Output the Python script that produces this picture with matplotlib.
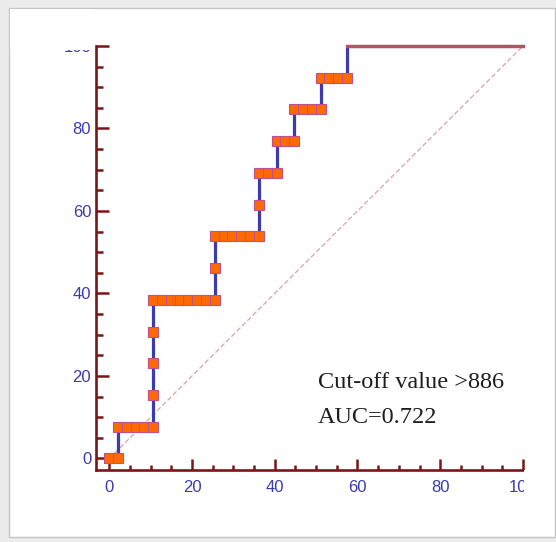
import numpy as np
import matplotlib
matplotlib.use('Agg')
import matplotlib.pyplot as plt
from matplotlib.patches import Rectangle
from matplotlib.ticker import MultipleLocator

# ROC points (1 - specificity %, sensitivity %), one marker per threshold
fpr = [0, 2.13, 2.13, 4.26, 6.38, 8.51, 10.64, 10.64, 10.64, 10.64,
       10.64, 12.77, 14.89, 17.02, 19.15, 21.28, 23.40, 25.53, 25.53, 25.53,
       27.66, 29.79, 31.91, 34.04, 36.17, 36.17, 36.17, 38.30, 40.43, 40.43,
       42.55, 44.68, 44.68, 46.81, 48.94, 51.06, 51.06, 53.19, 55.32, 57.45]
sens = [0, 0, 7.69, 7.69, 7.69, 7.69, 7.69, 15.38, 23.08, 30.77,
        38.46, 38.46, 38.46, 38.46, 38.46, 38.46, 38.46, 38.46, 46.15, 53.85,
        53.85, 53.85, 53.85, 53.85, 53.85, 61.54, 69.23, 69.23, 69.23, 76.92,
        76.92, 76.92, 84.62, 84.62, 84.62, 84.62, 92.31, 92.31, 92.31, 92.31]
# curve end after last threshold
end_fpr = [57.45, 100]
end_sens = [100, 100]

ticks = [0, 20, 40, 60, 80, 100]
label_lines = ['Cut-off value >886', 'AUC=0.722']

axis_color = '#7b1616'
label_color = '#3b3bb0'
line_color = '#3c3cac'
marker_face = '#ff6a00'
marker_edge = '#c0508a'

W, H = 556, 542
fig = plt.figure(figsize=(W / 100, H / 100), dpi=100, facecolor='#ececec')

# white panel with soft grey frame
fig.add_artist(Rectangle((9 / W, 1 - 537 / H), 546 / W, 529 / H, transform=fig.transFigure,
                         facecolor='white', edgecolor='#c4c4c4', linewidth=1.0, zorder=-5))

ax = fig.add_axes([96 / W, 1 - 470 / H, 427 / W, 424 / H])
ax.set_facecolor('none')
ax.set_xlim(-3.2, 100)
ax.set_ylim(-2.8, 100)

# reference diagonal
ax.plot([0, 100], [0, 100], color='#e2a2a2', linewidth=0.9, linestyle=(0, (4, 2)), zorder=1)

# ROC staircase
ax.plot(fpr + end_fpr, sens + end_sens, color=line_color, linewidth=2.3,
        solid_joinstyle='miter', clip_on=False, zorder=2)
ax.plot(end_fpr, end_sens, color='#e55a4a', linewidth=2.4, alpha=0.75, clip_on=False, zorder=3)
ax.plot(fpr, sens, linestyle='none', marker='s', markersize=6.8,
        markerfacecolor=marker_face, markeredgecolor=marker_edge, markeredgewidth=0.8,
        clip_on=False, zorder=4)

for s in ['top', 'right']:
    ax.spines[s].set_visible(False)
for s in ['left', 'bottom']:
    ax.spines[s].set_color(axis_color)
    ax.spines[s].set_linewidth(1.9)

ax.set_xticks(ticks)
ax.set_yticks(ticks)
ax.xaxis.set_minor_locator(MultipleLocator(5))
ax.yaxis.set_minor_locator(MultipleLocator(5))
ax.tick_params(axis='both', which='both', direction='in', color=axis_color,
               width=1.8, labelcolor=label_color)
ax.tick_params(axis='x', which='major', length=8, pad=7, labelsize=12)
ax.tick_params(axis='x', which='minor', length=3.8)
ax.tick_params(axis='y', which='major', length=9.5, pad=3.5, labelsize=12)
ax.tick_params(axis='y', which='minor', length=4.8)
for lab in ax.get_xticklabels() + ax.get_yticklabels():
    lab.set_family('Liberation Sans')

ax.text(50.4, 17.1, label_lines[0], fontsize=17.5, family='Liberation Serif',
        color='#1e1e1e', va='baseline', ha='left')
ax.text(50.4, 8.6, label_lines[1], fontsize=17.5, family='Liberation Serif',
        color='#1e1e1e', va='baseline', ha='left')

# the source picture is cropped at the top and right edges of the plot
fig.add_artist(Rectangle((524 / W, 1 - 536 / H), 30 / W, 66 / H, transform=fig.transFigure,
                         facecolor='white', edgecolor='none', zorder=20))
fig.add_artist(Rectangle((10 / W, 1 - 50 / H), 85 / W, 41 / H, transform=fig.transFigure,
                         facecolor='white', edgecolor='none', zorder=20))

fig.savefig('out.png', dpi=100, facecolor=fig.get_facecolor())
